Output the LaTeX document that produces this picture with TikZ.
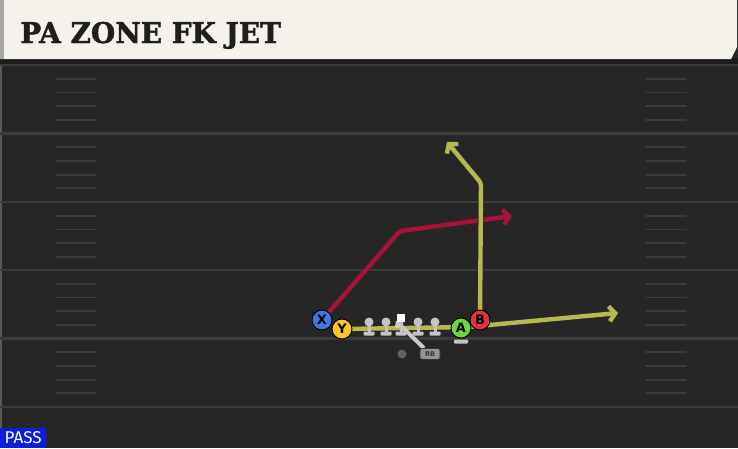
\documentclass[tikz,border=0pt]{standalone}
\usepackage{fontspec}
\usetikzlibrary{arrows.meta}
\newfontfamily\titlefont{DejaVu Serif}[BoldFeatures={FakeBold=1.6}]
\newfontfamily\tagfont{Fira Sans}
\newfontfamily\markfont{DejaVu Sans}

\definecolor{fieldgray}{RGB}{38,38,38}
\definecolor{bandgray}{RGB}{27,27,27}
\definecolor{linegray}{RGB}{60,60,60}
\definecolor{headcream}{RGB}{245,242,236}
\definecolor{titleink}{RGB}{30,30,30}
\definecolor{routered}{RGB}{168,18,55}
\definecolor{routeyellow}{RGB}{184,184,82}
\definecolor{xblue}{RGB}{62,122,222}
\definecolor{yyellow}{RGB}{246,198,42}
\definecolor{agreen}{RGB}{112,214,62}
\definecolor{bred}{RGB}{226,52,62}
\definecolor{olgray}{RGB}{196,196,196}
\definecolor{passblue}{RGB}{12,30,215}

\pgfdeclarelayer{routes}
\pgfdeclarelayer{field}
\pgfsetlayers{field,routes,main}

\begin{document}
\begin{tikzpicture}[x=1pt,y=-1pt,
    player/.style={circle, draw=black, line width=0.9pt, minimum size=20pt, inner sep=0pt,
      text=black, font=\markfont\bfseries\fontsize{13}{13}\selectfont},
    lineman/.style={circle, fill=olgray, minimum size=9pt, inner sep=0pt},
    route/.style={line width=4.4pt, line join=round, rounded corners=3pt,
      -{Straight Barb[length=6pt,width=15pt]},
      preaction={draw=black!85, line width=6pt}}]
  \useasboundingbox (0,0) rectangle (738,448);

  % Veld en kop
  \begin{pgfonlayer}{field}
    \fill[fieldgray] (0,0) rectangle (738,448);
    \fill[bandgray] (0,58) rectangle (738,64);
    \fill[black!65] (0,64) rectangle (2,448);
    \fill[headcream] (0,0) -- (737,0) -- (737,47) -- (731,59) -- (0,59) -- cycle;
    \fill[black!35] (0,0) rectangle (4,59);

    % Yardlijnen en hashes
    \foreach \l in {65,133.5,202,270,338.5,407}
      \draw[linegray, line width=2.2pt] (0,\l) -- (738,\l);
    \foreach \l in {65,133.5,202,270,338.5}
      \foreach \k in {1,...,4} {
        \draw[linegray, line width=1.8pt, line cap=round] (56,\l+\k*13.7) -- (96,\l+\k*13.7);
        \draw[linegray, line width=1.8pt, line cap=round] (646,\l+\k*13.7) -- (686,\l+\k*13.7);
      }
  \end{pgfonlayer}

  \node[anchor=base west, inner sep=0pt, text=titleink,
    font=\titlefont\bfseries\fontsize{28.5}{28.5}\selectfont] (title) at (20,43)
    {\scalebox{0.98}[1]{PA ZONE FK JET}};

  % Lijn
  \foreach \n/\x in {lt/369,lg/386,rg/418,rt/435,ce/401} {
    \fill[olgray] (\x-1.5,322) rectangle (\x+1.5,333);
    \fill[olgray, rounded corners=0.8pt] (\x-5.5,331.5) rectangle (\x+5.5,335.5);
  }
  \foreach \n/\x in {lt/369,lg/386,rg/418,rt/435}
    \node[lineman] (\n) at (\x,322) {};
  \node[fill=white, minimum size=8.5pt, inner sep=0pt] (center) at (401,318) {};

  % Spelers
  \node[circle, fill=black!62, minimum size=9pt, inner sep=0pt] (qb) at (402,354) {};
  \node[fill=black!42, draw=black!80, line width=0.6pt, rounded corners=2.5pt, minimum width=20pt,
    minimum height=11pt, inner sep=0pt,
    font=\markfont\bfseries\fontsize{6.5}{6.5}\selectfont, text=black!80] (rb) at (430,354) {RB};
  \fill[olgray, rounded corners=0.8pt] (454,339.5) rectangle (468,343.5);
  \node[player, fill=xblue] (X) at (322,320) {X};
  \node[player, fill=yyellow] (Y) at (342,329) {Y};
  \node[player, fill=agreen] (A) at (461,328) {A};
  \node[player, fill=bred] (B) at (480,320) {B};

  \coordinate (xbreak) at (400,231);
  \coordinate (xend) at (512,216);
  \coordinate (ybreak) at (468,327);
  \coordinate (yend) at (618,313);
  \coordinate (bbreak) at (481,183);
  \coordinate (bend) at (447,142);
  \coordinate (mesh) at (396,321);

  % Routes
  \begin{pgfonlayer}{routes}
    \draw[route, routered] (X.center) -- (xbreak) -- (xend);
    \draw[route, routeyellow] (Y.center) -- (ybreak) -- (yend);
    \draw[route, routeyellow] (B.center) -- (bbreak) -- (bend);
    \draw[olgray!90, line width=4pt, -{Straight Barb[length=3pt,width=9pt]}] (rb) -- (mesh);
  \end{pgfonlayer}

  % Label
  \node[fill=passblue, anchor=south west, minimum width=46pt, minimum height=20pt, inner sep=0pt,
    text=white, font=\tagfont\fontsize{17}{17}\selectfont] (pass) at (0,448) {PASS};
\end{tikzpicture}
\end{document}
